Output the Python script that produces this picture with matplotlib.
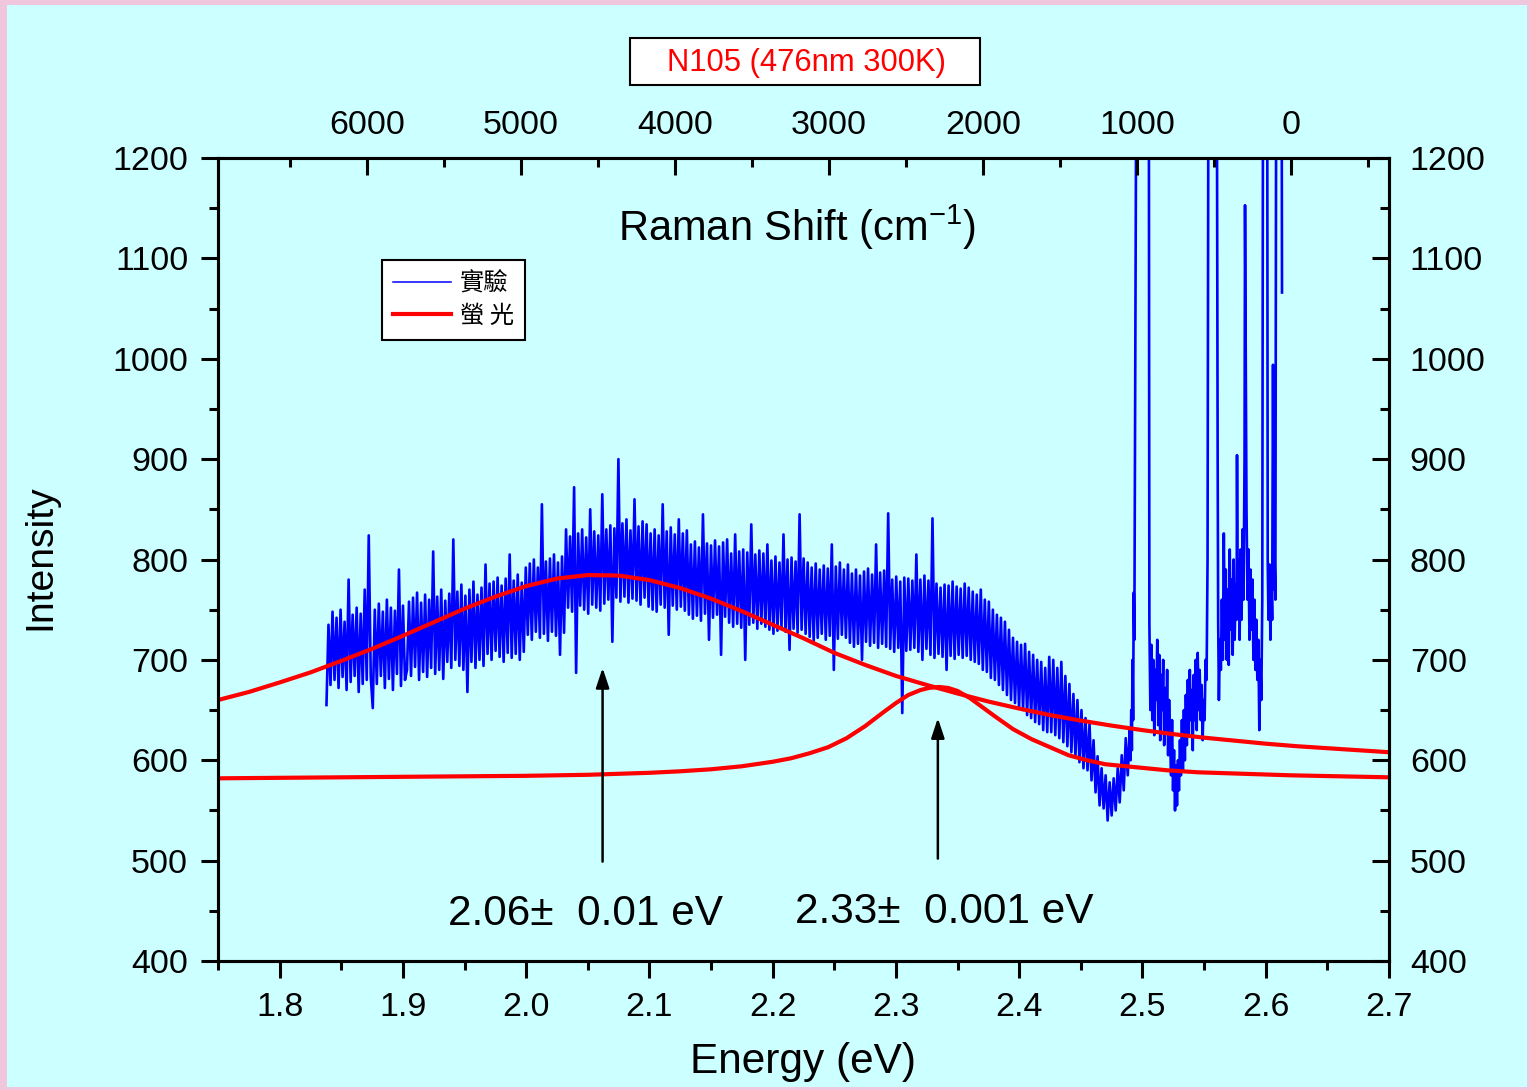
import numpy as np
import matplotlib
matplotlib.use("Agg")
import matplotlib.pyplot as plt
from matplotlib.patches import Rectangle
from matplotlib.ticker import MultipleLocator

# ---------------- data ----------------
# experimental spectrum, noisy band region (uniform energy grid)
band_e_start, band_e_end = 1.838, 2.4897
band_intensity = [
    655, 735, 675, 748, 680, 742, 672, 750, 683, 738, 670, 780, 678, 745, 684, 752, 668, 746, 676, 770,
    680, 824, 683, 652, 750, 676, 756, 684, 748, 672, 760, 681, 752, 670, 749, 686, 790, 674, 754, 680,
    690, 758, 684, 762, 693, 767, 680, 757, 688, 765, 683, 760, 692, 808, 686, 763, 690, 770, 681, 759,
    698, 766, 692, 820, 700, 768, 694, 775, 690, 764, 668, 770, 698, 778, 692, 765, 700, 772, 694, 795,
    706, 776, 700, 778, 709, 782, 703, 774, 698, 781, 707, 805, 702, 779, 706, 785, 700, 777, 708, 792,
    725, 796, 720, 800, 728, 792, 722, 855, 726, 798, 719, 801, 728, 805, 724, 797, 705, 803, 727, 830,
    752, 823, 748, 872, 687, 826, 754, 830, 750, 822, 746, 850, 755, 828, 752, 824, 749, 865, 756, 830,
    760, 834, 718, 831, 762, 900, 758, 836, 763, 840, 757, 829, 761, 860, 759, 833, 755, 838, 762, 835,
    753, 826, 750, 830, 748, 824, 755, 855, 752, 828, 725, 832, 754, 825, 750, 840, 753, 826, 749, 829,
    745, 815, 741, 818, 744, 812, 739, 845, 746, 816, 720, 814, 742, 819, 745, 813, 705, 817, 743, 820,
    737, 806, 733, 825, 736, 808, 732, 810, 700, 807, 735, 835, 737, 805, 731, 809, 736, 806, 733, 815,
    730, 799, 726, 803, 729, 797, 733, 825, 728, 800, 710, 802, 731, 798, 727, 845, 730, 801, 726, 797,
    723, 792, 719, 796, 722, 790, 726, 794, 720, 791, 724, 815, 690, 793, 721, 797, 725, 790, 722, 795,
    717, 786, 713, 790, 716, 784, 700, 788, 718, 791, 714, 785, 717, 815, 712, 787, 716, 789, 713, 846,
    711, 780, 708, 783, 712, 778, 647, 782, 709, 781, 710, 779, 712, 805, 708, 780, 700, 784, 711, 779,
    705, 841, 702, 776, 706, 772, 703, 775, 690, 774, 704, 778, 701, 773, 705, 771, 702, 776, 704, 772,
    700, 768, 698, 765, 696, 770, 690, 760, 688, 758, 682, 750, 680, 745, 675, 742, 670, 738, 665, 730,
    660, 722, 657, 718, 652, 715, 650, 716, 645, 708, 642, 705, 638, 700, 636, 698, 630, 692, 628, 703,
    628, 700, 625, 692, 622, 698, 618, 684, 614, 676, 608, 666, 604, 660, 598, 650, 592, 642, 590, 636,
    580, 620, 568, 604, 555, 592, 552, 585, 540, 578, 545, 582, 550, 592, 558, 605, 570, 622, 585, 630,
]

# experimental spectrum, Raman-peak region (explicit points)
raman_energy = [
    2.4903, 2.4909, 2.4914, 2.4919, 2.4924, 2.4929, 2.4934, 2.4939, 2.4950, 2.4985, 2.5020, 2.5040, 2.5050, 2.5056,
    2.5064, 2.5072, 2.5080, 2.5088, 2.5096, 2.5104, 2.5112, 2.5120, 2.5128, 2.5136,
    2.5144, 2.5152, 2.5160, 2.5168, 2.5176, 2.5184, 2.5192, 2.5200, 2.5208, 2.5216,
    2.5224, 2.5232, 2.5240, 2.5248, 2.5256, 2.5264, 2.5272, 2.5280, 2.5288, 2.5296, 2.5304, 2.5312, 2.5320, 2.5328,
    2.5336, 2.5344, 2.5352, 2.5360, 2.5368, 2.5376, 2.5384, 2.5392, 2.5400, 2.5408, 2.5416, 2.5424,
    2.5432, 2.5440, 2.5448, 2.5456, 2.5464, 2.5472, 2.5480, 2.5488, 2.5496, 2.5504, 2.5512, 2.5520,
    2.5528, 2.5535, 2.5550, 2.5580, 2.5600, 2.5610, 2.5614, 2.5620,
    2.5628, 2.5636, 2.5644, 2.5652, 2.5660, 2.5668, 2.5676, 2.5684, 2.5692, 2.5700, 2.5708, 2.5716,
    2.5724, 2.5732, 2.5740, 2.5748, 2.5756, 2.5764, 2.5767, 2.5772, 2.5780, 2.5788, 2.5796, 2.5804,
    2.5812, 2.5820, 2.5828, 2.5832, 2.5838, 2.5844, 2.5852, 2.5860, 2.5868, 2.5876, 2.5884, 2.5892,
    2.5900, 2.5908, 2.5916, 2.5924, 2.5932, 2.5940, 2.5948, 2.5956, 2.5964, 2.5972,
    2.5978, 2.5990, 2.6005, 2.6012, 2.6016,
    2.6022, 2.6030, 2.6038, 2.6046, 2.6052, 2.6059, 2.6066, 2.6072, 2.6078, 2.6085, 2.6100, 2.6120, 2.6132,
]
raman_intensity = [
    600, 650, 610, 700, 640, 767, 720, 900, 1300, 2200, 3000, 2600, 1500, 737,
    650, 715, 640, 700, 625, 690, 660, 720, 635, 705,
    620, 685, 650, 700, 615, 672, 630, 690, 605, 660,
    620, 585, 640, 570, 610, 550, 595, 555, 600, 570, 620, 585, 640, 590,
    650, 600, 665, 615, 680, 625, 690, 640, 670, 610, 685, 640,
    700, 630, 707, 650, 690, 640, 675, 620, 660, 640, 700, 680,
    800, 1300, 2600, 2400, 1500, 900, 740, 660,
    720, 690, 760, 700, 826, 720, 790, 700, 770, 695, 810, 730,
    780, 705, 800, 720, 775, 740, 904, 760, 800, 720, 810, 740,
    830, 760, 900, 1153, 1000, 850, 760, 810, 720, 790, 730, 780,
    700, 760, 690, 740, 680, 720, 630, 700, 660, 760,
    1300, 2400, 2000, 1300, 800,
    740, 795, 720, 780, 740, 994, 770, 800, 760, 1300, 2400, 2000, 1066,
]

# fluorescence fit curves
fluor_broad_energy = [1.75, 1.775, 1.80, 1.825, 1.85, 1.875, 1.90, 1.925, 1.95, 1.975,
                      2.00, 2.025, 2.05, 2.075, 2.10, 2.125, 2.15, 2.175, 2.20, 2.225,
                      2.25, 2.275, 2.30, 2.325, 2.35, 2.375, 2.40, 2.425, 2.45, 2.475,
                      2.50, 2.525, 2.55, 2.575, 2.60, 2.625, 2.65, 2.675, 2.70]
fluor_broad_intensity = [660, 668, 677.5, 687.5, 699, 711, 724, 737.5, 751, 763,
                         773.5, 781, 784.5, 784, 779.5, 771.5, 761, 748.5, 735, 721.5,
                         707, 695, 684, 675, 666.5, 658.5, 651.5, 645, 639.5, 634.5,
                         630, 626, 622.5, 619.5, 616.5, 614, 612, 610, 608]
fluor_narrow_energy = [1.75, 1.85, 1.95, 2.00, 2.05, 2.10, 2.125, 2.15, 2.175, 2.20,
                       2.215, 2.23, 2.245, 2.26, 2.275, 2.29, 2.30, 2.31, 2.32, 2.3275,
                       2.335, 2.3425, 2.35, 2.36, 2.37, 2.38, 2.395, 2.41, 2.425, 2.44,
                       2.455, 2.47, 2.495, 2.52, 2.545, 2.57, 2.62, 2.70]
fluor_narrow_intensity = [582, 583, 584, 584.5, 585.5, 587.5, 589, 591, 594, 598.5,
                          602, 607, 613, 622, 634, 648, 657, 665, 670, 672.2,
                          673, 672, 669, 662, 653, 644, 631, 621, 613, 605,
                          600, 596, 593, 590, 588, 587, 585, 583]

# annotations
peak_labels = ["2.06\u00b1  0.01 eV", "2.33\u00b1  0.001 eV"]
peak_label_energy = [2.048, 2.339]
peak_label_intensity = [447, 449]
arrow_energy = [2.062, 2.334]
arrow_tail = [499, 502]
arrow_head = [692, 642]

legend_labels = ["實驗", "螢 光"]
title_text = "N105 (476nm 300K)"

# axis settings
energy_range = (1.75, 2.7)
intensity_range = (400, 1200)
laser_energy = 2.6205        # eV at zero Raman shift (top axis)
ev_per_wavenumber = 1.2494e-4

# ---------------- style ----------------
latin = "Liberation Sans"
plt.rcParams["font.family"] = [latin, "DejaVu Sans"]
plt.rcParams["mathtext.fontset"] = "custom"
plt.rcParams["mathtext.rm"] = latin
plt.rcParams["mathtext.it"] = latin
plt.rcParams["mathtext.sf"] = latin
plt.rcParams["path.simplify"] = False
plt.rcParams["agg.path.chunksize"] = 0

W, H = 1530, 1090
fig = plt.figure(figsize=(W / 100, H / 100), dpi=100, facecolor="#F0C6DC")
bg = Rectangle((7 / W, 3 / H), (1527 - 7) / W, (1087 - 5) / H,
               transform=fig.transFigure, facecolor="#CCFFFF", edgecolor="none", zorder=-10)
fig.patches.append(bg)

ax_l, ax_r, ax_b, ax_t = 218, 1389, 961, 158
ax = fig.add_axes([ax_l / W, 1 - ax_b / H, (ax_r - ax_l) / W, (ax_b - ax_t) / H])
ax.set_facecolor("none")

# ---------------- plot ----------------
band_energy = np.linspace(band_e_start, band_e_end, len(band_intensity))
exp_energy = np.concatenate([band_energy, raman_energy])
exp_intensity = np.concatenate([band_intensity, raman_intensity])

l_exp, = ax.plot(exp_energy, exp_intensity, color="#0000FF", lw=1.9, zorder=2)
l_fl, = ax.plot(fluor_broad_energy, fluor_broad_intensity, color="#FF0000", lw=3.0, zorder=3)
ax.plot(fluor_narrow_energy, fluor_narrow_intensity, color="#FF0000", lw=3.0, zorder=3)

ax.set_xlim(*energy_range)
ax.set_ylim(*intensity_range)

for xe, yt, yh in zip(arrow_energy, arrow_tail, arrow_head):
    ax.annotate("", xy=(xe, yh), xytext=(xe, yt),
                arrowprops=dict(arrowstyle="-|>,head_length=0.6,head_width=0.2",
                                color="black", lw=1.8, shrinkA=0, shrinkB=0,
                                mutation_scale=20), zorder=4)
for txt, xe, yi in zip(peak_labels, peak_label_energy, peak_label_intensity):
    ax.text(xe, yi, txt, ha="center", va="center", fontsize=30.5)

# ticks
tick_fs = 24.5
spine_w = 2.2
ax.xaxis.set_major_locator(MultipleLocator(0.1))
ax.xaxis.set_minor_locator(MultipleLocator(0.05))
ax.yaxis.set_major_locator(MultipleLocator(100))
ax.yaxis.set_minor_locator(MultipleLocator(50))
ax.tick_params(axis="both", which="major", direction="out", length=12.5, width=spine_w,
               labelsize=tick_fs, colors="black", top=False, right=False)
ax.tick_params(axis="both", which="minor", direction="out", length=6.5, width=spine_w,
               top=False, right=False)
ax.tick_params(axis="x", which="major", pad=10)
ax.tick_params(axis="y", which="major", pad=9)
for s in ax.spines.values():
    s.set_linewidth(spine_w)

ax.set_xlabel("Energy (eV)", fontsize=30.5, va="center")
ax.xaxis.set_label_coords(0.4996, -0.126)
ax.set_ylabel("Intensity", fontsize=28.2, va="center")
ax.yaxis.set_label_coords(-0.152, 0.503)

# right axis
axr = ax.twinx()
axr.set_ylim(*intensity_range)
axr.yaxis.set_major_locator(MultipleLocator(100))
axr.yaxis.set_minor_locator(MultipleLocator(50))
axr.tick_params(axis="y", which="major", direction="in", length=12.5, width=spine_w,
                labelsize=tick_fs, pad=15)
axr.tick_params(axis="y", which="minor", direction="in", length=6.5, width=spine_w)
for s in axr.spines.values():
    s.set_linewidth(spine_w)

# top axis (Raman shift)
axt = ax.twiny()
axt.set_xlim((laser_energy - energy_range[0]) / ev_per_wavenumber,
             (laser_energy - energy_range[1]) / ev_per_wavenumber)
axt.xaxis.set_major_locator(MultipleLocator(1000))
axt.xaxis.set_minor_locator(MultipleLocator(500))
axt.tick_params(axis="x", which="major", direction="in", length=12.5, width=spine_w,
                labelsize=tick_fs, pad=12)
axt.tick_params(axis="x", which="minor", direction="in", length=6.5, width=spine_w)
axt.set_xlabel("Raman Shift (cm$^{-1}$)", fontsize=30, va="center")
axt.xaxis.set_label_coords(0.4945, 0.914)

# legend
leg = ax.legend([l_exp, l_fl], legend_labels, loc="upper left", bbox_to_anchor=(0.14, 0.873),
                borderaxespad=0, fancybox=False, edgecolor="black", facecolor="white",
                framealpha=1, handlelength=2.4, handletextpad=0.35, labelspacing=0.25,
                borderpad=0.45, prop=dict(family=["Noto Sans CJK TC", "DejaVu Sans"], size=17.5))
leg.get_frame().set_linewidth(1.5)
leg.get_lines()[0].set_linewidth(1.1)
leg.set_zorder(10)

# title box
fig.patches.append(Rectangle((630 / W, 1 - 85 / H), 350 / W, 47 / H, transform=fig.transFigure,
                             facecolor="white", edgecolor="black", lw=1.5, zorder=1))
fig.text(806 / W, 1 - 63 / H, title_text, color="#FF0000", fontsize=22.3,
         ha="center", va="center")

fig.savefig("out.png", dpi=100, facecolor=fig.get_facecolor())
